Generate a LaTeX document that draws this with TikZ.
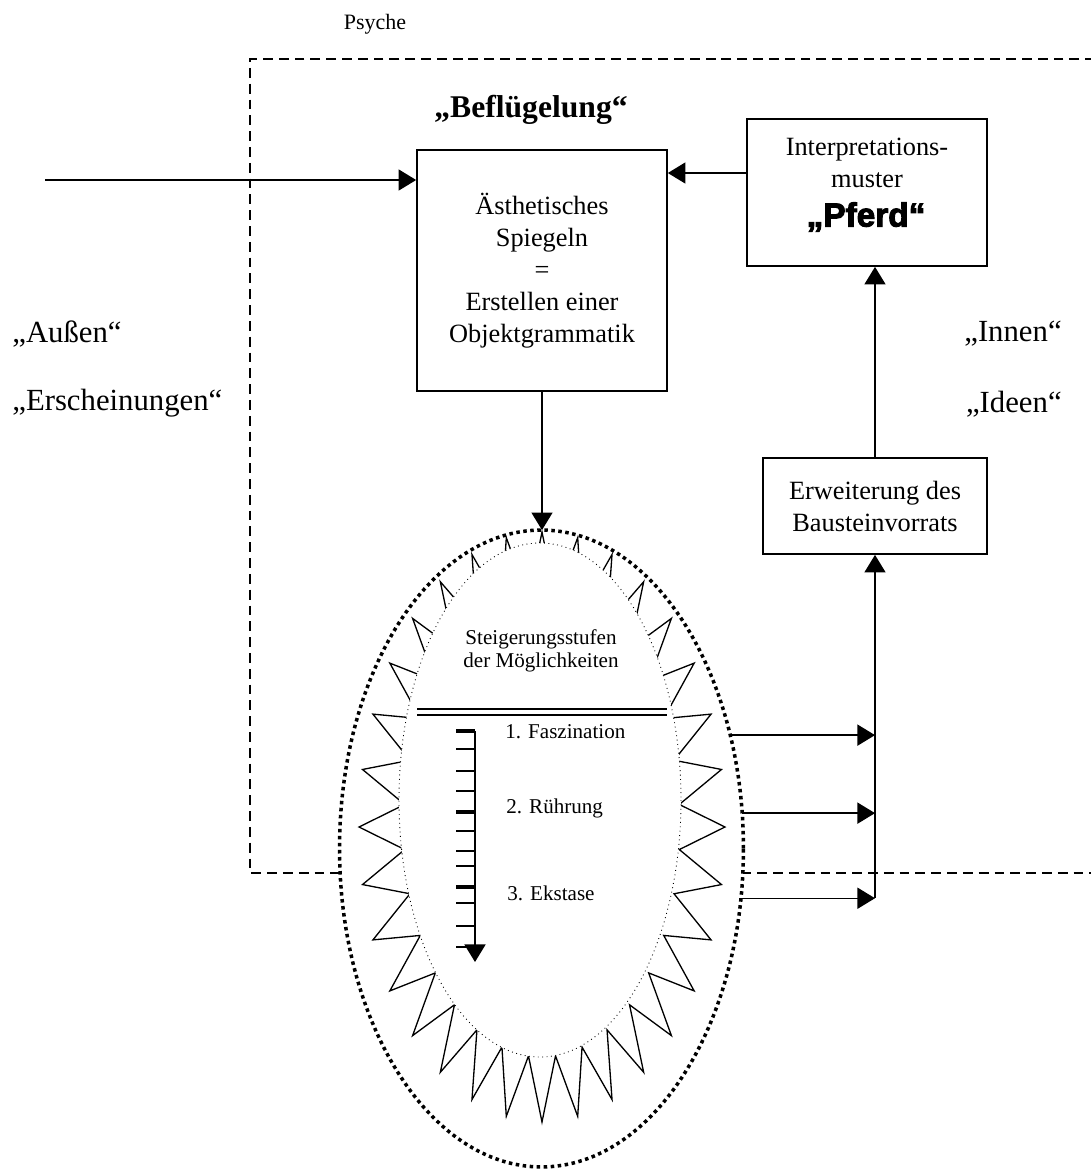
\documentclass[tikz,border=0pt]{standalone}
\usepackage{fontspec}
\setmainfont{Liberation Serif}
\newfontfamily\heavyfont{Liberation Sans}[BoldFeatures={FakeBold=3}]
\usetikzlibrary{arrows.meta,shapes.geometric}

\tikzset{
  kasten/.style={draw, line width=1pt, inner sep=0pt, align=center,
                 font=\fontsize{15}{18.2}\selectfont},
  schrift/.style={inner sep=0pt, align=center, font=\fontsize{15}{18.2}\selectfont},
  seite/.style={inner sep=0pt, font=\fontsize{17.5}{21}\selectfont},
  stufe/.style={inner sep=0pt, anchor=west, font=\fontsize{12}{14}\selectfont},
  pfeil/.style={line width=0.75pt, -{Triangle[width=12pt,length=10pt]}},
  rahmen/.style={line width=0.75pt, dash pattern=on 5.6pt off 3.4pt},
  zacke/.style={line width=0.75pt, fill=white, line join=miter},
  innenrand/.style={line width=0.5pt, dotted, fill=white}
}

\begin{document}
\begin{tikzpicture}[x=0.02cm, y=-0.02cm]
  \useasboundingbox (0,0) rectangle (1091,1171);

    \draw[rahmen] (1095,59) -- (250,59) -- (250,873) -- (1095,873);

    \node[font=\fontsize{12.5}{15}\selectfont] (psyche) at (375,24) {Psyche};
    \node[font=\bfseries\fontsize{18}{21}\selectfont] (befl) at (531,110) {„Beflügelung“};

    \node[kasten, minimum width=5cm, minimum height=4.82cm] (spiegel) at (542,270.5)
      {Ästhetisches\\Spiegeln\\=\\Erstellen einer\\Objektgrammatik};
    \node[kasten, minimum width=4.8cm, minimum height=2.94cm] (deutung) at (867,192.5) {};
    \node[schrift] (deutungtext) at (867,163) {Interpretations-\\muster};
    \node[font=\heavyfont\bfseries\fontsize{19}{22}\selectfont] (pferd) at (866,217) {„Pferd“};
    \node[kasten, minimum width=4.48cm, minimum height=1.92cm] (ausbau) at (875,506)
      {Erweiterung des\\Bausteinvorrats};

    \node[seite, anchor=west] (aussen) at (12,334) {„Außen“};
    \node[seite, anchor=west] (erschein) at (12,403) {„Erscheinungen“};
    \node[seite, anchor=east] (innen) at (1062,334) {„Innen“};
    \node[seite, anchor=east] (ideen) at (1062,404) {„Ideen“};

    % Ellipse mit Zacken
    \node[ellipse, draw, fill=white, inner sep=0pt, outer sep=0pt,
          minimum width=8.08cm, minimum height=12.74cm,
          line width=2pt, dash pattern=on 2pt off 2pt] (stufen) at (541.5,848.5) {};
    \draw[zacke, shift={(542,827)}] (90:183 and 295)
      \foreach \k in {1,...,32} { -- ({90+11.25*\k-5.625}:138 and 230) -- ({90+11.25*\k}:183 and 295) } -- cycle;
    \draw[innenrand] (540,800) ellipse [x radius=141, y radius=257];

    \node[align=center, inner sep=0pt, font=\fontsize{12}{13.2}\selectfont] (stufentext) at (541,651)
      {Steigerungsstufen\\der Möglichkeiten};
    \draw[line width=0.9pt] (417,709) -- (667,709) (417,715) -- (667,715);

    \node[stufe] (faszination) at (505,732) {1. Faszination};
    \node[stufe] (ruehrung) at (506,808) {2. Rührung};
    \node[stufe] (ekstase) at (507,893) {3. Ekstase};

    \draw[line width=0.85pt, -{Triangle[width=12pt,length=10pt]}] (475,731) -- (475,962);
    \foreach \y in {749,771,791,831,851,866,903,926,947}
      \draw[line width=0.6pt] (456,\y) -- (475,\y);
    \foreach \y in {731,812,887}
      \draw[line width=1.8pt] (456,\y) -- (475,\y);

    % Verbindungen
    \coordinate (quelle) at (45,180);
    \draw[pfeil] (quelle) -- (quelle -| spiegel.west);
    \draw[pfeil] ([yshift=0.39cm]deutung.west) -- ([yshift=0.39cm]deutung.west -| spiegel.east);
    \draw[pfeil] (spiegel.south) -- (spiegel.south |- stufen.north);
    \foreach \w in {31,10,346}
      \draw[pfeil] (stufen.\w) -- (stufen.\w -| ausbau);
    \draw[pfeil] (stufen.346 -| ausbau) -- (ausbau.south);
    \draw[pfeil] (ausbau.north) -- (ausbau.north |- deutung.south);

\end{tikzpicture}
\end{document}
